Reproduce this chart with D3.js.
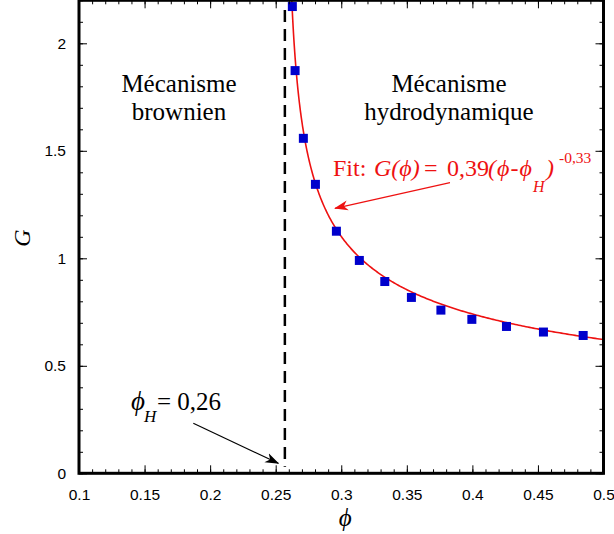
<!DOCTYPE html>
<html>
<head>
<meta charset="utf-8">
<script src="https://cdn.jsdelivr.net/npm/d3@7"></script>
<style>
  html, body { margin: 0; padding: 0; background: #fff; }
  svg { display: block; }
</style>
</head>
<body>
<svg id="chart" width="614" height="534"></svg>
<script>
// Measured yield stress ratio G versus volume fraction phi
const phiValues = [0.2627, 0.2648, 0.2711, 0.2803, 0.2963, 0.3138, 0.3332, 0.3535, 0.3760, 0.3996, 0.4260, 0.4542, 0.4845];
const gValues   = [2.171, 1.873, 1.558, 1.344, 1.126, 0.990, 0.892, 0.818, 0.759, 0.716, 0.683, 0.657, 0.641];

// Power-law fit parameters: G = a * (phi - phiH)^b
const fitA = 0.39;
const fitB = -0.33;
const phiH = 0.257;

const xTickLabels = [0.1, 0.15, 0.2, 0.25, 0.3, 0.35, 0.4, 0.45, 0.5];
const yTickLabels = [0, 0.5, 1, 1.5, 2];

const svg = d3.select("#chart");
const pLeft = 79, pRight = 603.5, pTop = 0.3, pBottom = 473.3;

const x = d3.scaleLinear().domain([0.1, 0.5]).range([pLeft, pRight]);
const y = d3.scaleLinear().domain([0, 2.2]).range([pBottom, pTop]);

const sans = "Liberation Sans, Arial, sans-serif";
const serif = "Liberation Serif, Times New Roman, DejaVu Serif, serif";
const comma = v => d3.format(".2f")(v).replace(".", ",").replace("\u2212", "-");

// arrow markers
const defs = svg.append("defs");
function marker(id, color) {
  defs.append("marker")
    .attr("id", id)
    .attr("viewBox", "0 -6 14 12")
    .attr("refX", 13).attr("refY", 0)
    .attr("markerWidth", 14).attr("markerHeight", 12)
    .attr("markerUnits", "userSpaceOnUse")
    .attr("orient", "auto")
    .append("path")
    .attr("d", "M0,-5 L14,0 L0,5 L4,0 Z")
    .attr("fill", color);
}
marker("arrRed", "#ee1111");
marker("arrBlack", "#000");

// clip to plot region
defs.append("clipPath").attr("id", "plotClip")
  .append("rect").attr("x", pLeft).attr("y", pTop).attr("width", pRight - pLeft).attr("height", pBottom - pTop);

const plot = svg.append("g").attr("clip-path", "url(#plotClip)");

// dashed vertical line at phiH
plot.append("line")
  .attr("x1", x(phiH)).attr("x2", x(phiH))
  .attr("y1", y(2.155)).attr("y2", y(0.03))
  .attr("stroke", "#000").attr("stroke-width", 2.5)
  .attr("stroke-dasharray", "12,7");

// fit curve
const gTop = 2.2;
const phiStart = phiH + Math.pow(gTop / fitA, 1 / fitB);
const curvePhi = d3.range(0, 301).map(i => phiStart + (0.5 - phiStart) * Math.pow(i / 300, 2));
const line = d3.line()
  .x(p => x(p))
  .y(p => y(fitA * Math.pow(p - phiH, fitB)));
plot.append("path")
  .datum(curvePhi)
  .attr("d", line)
  .attr("fill", "none")
  .attr("stroke", "#ee1111")
  .attr("stroke-width", 1.6);

// data points
const sq = 9;
svg.append("g").selectAll("rect")
  .data(d3.zip(phiValues, gValues))
  .join("rect")
  .attr("x", d => x(d[0]) - sq / 2)
  .attr("y", d => y(d[1]) - sq / 2)
  .attr("width", sq).attr("height", sq)
  .attr("fill", "#0000cc");

// axes with inward ticks on all four sides
const xMajor = d3.range(0, 9).map(i => 0.1 + i * 0.05);
const xMinor = d3.range(0, 41).map(i => 0.1 + i * 0.01);
const yMajor = d3.range(0, 5).map(i => i * 0.5);
const yMinor = d3.range(0, 23).map(i => i * 0.1);

function addAxis(axis, transform) {
  const g = svg.append("g").attr("transform", transform).call(axis);
  g.select(".domain").remove();
  g.selectAll(".tick line").attr("stroke", "#000").attr("stroke-width", 1);
  return g;
}

const majLen = 8, minLen = 4;
// bottom
addAxis(d3.axisBottom(x).tickValues(xMinor).tickSize(-minLen).tickFormat(""), `translate(0,${pBottom})`);
const xb = addAxis(d3.axisBottom(x).tickValues(xTickLabels).tickSize(-majLen).tickPadding(majLen + 8).tickFormat(d3.format("")), `translate(0,${pBottom})`);
xb.selectAll("text").attr("font-family", sans).attr("font-size", 15.5).attr("fill", "#000");
// top
addAxis(d3.axisTop(x).tickValues(xMinor).tickSize(-minLen).tickFormat(""), `translate(0,${pTop})`);
addAxis(d3.axisTop(x).tickValues(xMajor).tickSize(-majLen).tickFormat(""), `translate(0,${pTop})`);
// left
addAxis(d3.axisLeft(y).tickValues(yMinor).tickSize(-minLen).tickFormat(""), `translate(${pLeft},0)`);
const yl = addAxis(d3.axisLeft(y).tickValues(yTickLabels).tickSize(-majLen).tickPadding(13).tickFormat(d3.format("")), `translate(${pLeft},0)`);
yl.selectAll("text").attr("font-family", sans).attr("font-size", 15.5).attr("fill", "#000");
// right
addAxis(d3.axisRight(y).tickValues(yMinor).tickSize(-minLen).tickFormat(""), `translate(${pRight},0)`);
addAxis(d3.axisRight(y).tickValues(yMajor).tickSize(-majLen).tickFormat(""), `translate(${pRight},0)`);

// frame
svg.append("rect")
  .attr("x", pLeft).attr("y", pTop)
  .attr("width", pRight - pLeft).attr("height", pBottom - pTop)
  .attr("fill", "none").attr("stroke", "#000").attr("stroke-width", 3);

// axis titles
svg.append("text")
  .attr("x", x(0.3) + 4).attr("y", 526)
  .attr("text-anchor", "middle")
  .attr("font-family", serif).attr("font-style", "italic").attr("font-size", 25)
  .text("ϕ");
svg.append("text")
  .attr("transform", "translate(30,238) rotate(-90)")
  .attr("text-anchor", "middle")
  .attr("font-family", serif).attr("font-style", "italic").attr("font-size", 24)
  .text("G");

// region labels
function twoLines(cx, lines) {
  const t = svg.append("text")
    .attr("text-anchor", "middle")
    .attr("font-family", serif).attr("font-size", 25).attr("fill", "#000");
  lines.forEach((s, i) => t.append("tspan").attr("x", cx).attr("y", 92 + i * 27.5).text(s));
}
twoLines(179, ["Mécanisme", "brownien"]);
twoLines(449, ["Mécanisme", "hydrodynamique"]);

// fit annotation
const fit = svg.append("text")
  .attr("font-family", serif).attr("font-size", 24).attr("fill", "#ee1111");
fit.append("tspan").attr("x", 333).attr("y", 176).text("Fit:");
fit.append("tspan").attr("x", 374).attr("font-style", "italic").text("G(ϕ)");
fit.append("tspan").attr("x", 424).text("=");
fit.append("tspan").attr("x", 447).text(comma(fitA));
fit.append("tspan").attr("x", 488).attr("font-style", "italic").attr("letter-spacing", 1).text("(ϕ-ϕ");
fit.append("tspan").attr("x", 533).attr("font-style", "italic").attr("font-size", 16).attr("y", 192).text("H");
fit.append("tspan").attr("x", 546).attr("font-style", "italic").attr("y", 176).text(")");
fit.append("tspan").attr("x", 559).attr("font-size", 15.5).attr("y", 163).text(comma(fitB));

svg.append("line")
  .attr("x1", 450).attr("y1", 182.7)
  .attr("x2", 335).attr("y2", 208.3)
  .attr("stroke", "#ee1111").attr("stroke-width", 1.2)
  .attr("marker-end", "url(#arrRed)");

// phiH annotation
const ph = svg.append("text")
  .attr("font-family", serif).attr("font-size", 25).attr("fill", "#000");
ph.append("tspan").attr("x", 131).attr("y", 410).attr("font-style", "italic").attr("font-size", 27).text("ϕ");
ph.append("tspan").attr("x", 144).attr("y", 421.5).attr("font-style", "italic").attr("font-size", 17).text("H");
ph.append("tspan").attr("x", 157).attr("y", 410).text("= " + comma(phiH));

svg.append("line")
  .attr("x1", 193.3).attr("y1", 423.3)
  .attr("x2", 278.3).attr("y2", 463.3)
  .attr("stroke", "#000").attr("stroke-width", 1.2)
  .attr("marker-end", "url(#arrBlack)");
</script>
</body>
</html>
